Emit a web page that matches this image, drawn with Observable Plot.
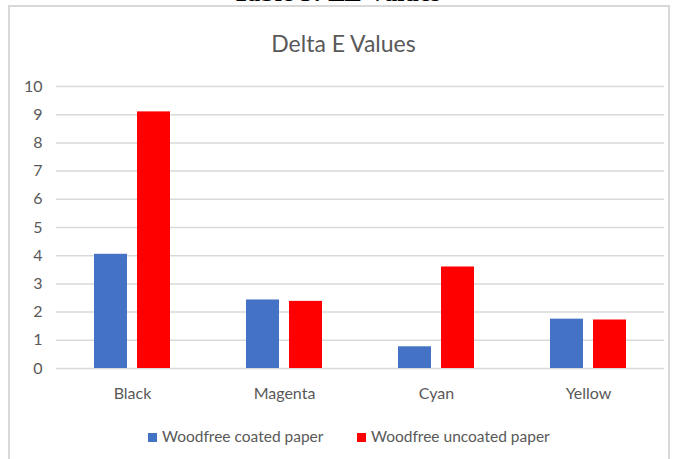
<!DOCTYPE html>
<html>
<head>
<meta charset="utf-8">
<script src="https://cdn.jsdelivr.net/npm/d3@7"></script>
<script src="https://cdn.jsdelivr.net/npm/@observablehq/plot@0.6"></script>
<style>
  html, body { margin: 0; padding: 0; background: #fff; }
  #wrap { position: relative; width: 673px; height: 459px; overflow: hidden; font-family: Lato, "Open Sans", sans-serif; }
  #caption { position: absolute; left: 0; width: 673px; top: -22px; text-align: center; line-height: 30px;
    font-family: "Liberation Serif", serif; font-weight: bold; font-size: 26px; color: #000; }
  #frame { position: absolute; left: 8px; top: 5px; width: 662px; height: 470px; border: 2px solid #d9d9d9; box-sizing: border-box; background: #fff; }
  #title { position: absolute; left: 7px; width: 673px; top: 29px; text-align: center; font-size: 23px; line-height: 28px; color: #595959; }
  #chart { position: absolute; left: 0; top: 70px; }
  #legend { position: absolute; top: 426px; left: 0; width: 673px; font-size: 15.5px; line-height: 20px; color: #595959; }
  .item { position: absolute; top: 0; white-space: nowrap; }
  .sw { display: inline-block; width: 9px; height: 9px; margin-right: 5px; vertical-align: 0px; }
</style>
</head>
<body>
<div id="wrap">
  <div id="caption">Table 3: ΔE Values</div>
  <div id="frame"></div>
  <div id="title">Delta E Values</div>
  <div id="chart"></div>
  <div id="legend"></div>
</div>
<script>
const categories = ["Black", "Magenta", "Cyan", "Yellow"];
const seriesNames = ["Woodfree coated paper", "Woodfree uncoated paper"];
const coated = [4.05, 2.43, 0.77, 1.75];
const uncoated = [9.1, 2.38, 3.6, 1.72];
const colors = ["#4472c4", "#ff0000"];
const yTicks = [0, 1, 2, 3, 4, 5, 6, 7, 8, 9, 10];

const rows = categories.flatMap((c, i) => [
  {category: c, series: seriesNames[0], value: coated[i]},
  {category: c, series: seriesNames[1], value: uncoated[i]}
]);

const chart = Plot.plot({
  width: 673,
  height: 340,
  marginLeft: 55,
  marginRight: 8,
  marginTop: 16,
  marginBottom: 42,
  style: {fontFamily: "Lato, 'Open Sans', sans-serif", fontSize: "16px", color: "#595959", background: "transparent"},
  fx: {domain: categories, padding: 0, label: null},
  x: {domain: seriesNames, axis: null, paddingInner: 0.227, paddingOuter: 0.846},
  y: {domain: [0, 10], label: null},
  color: {domain: seriesNames, range: colors},
  marks: [
    Plot.ruleY(yTicks, {stroke: "#d9d9d9", strokeWidth: 1.5}),
    Plot.barY(rows, {fx: "category", x: "series", y: "value", fill: "series"}),
    Plot.axisY(yTicks, {tickSize: 0, tickPadding: 14, fontSize: 16, fill: "#595959", label: null}),
    Plot.axisFx({anchor: "bottom", tickSize: 0, tickPadding: 19, fontSize: 16, fill: "#595959", label: null})
  ]
});
document.getElementById("chart").appendChild(chart);

// legend
const legend = document.getElementById("legend");
const lefts = [148, 357];
seriesNames.forEach((name, i) => {
  const item = document.createElement("div");
  item.className = "item";
  item.style.left = lefts[i] + "px";
  const sw = document.createElement("span");
  sw.className = "sw";
  sw.style.background = colors[i];
  item.appendChild(sw);
  item.appendChild(document.createTextNode(name));
  legend.appendChild(item);
});
</script>
</body>
</html>
